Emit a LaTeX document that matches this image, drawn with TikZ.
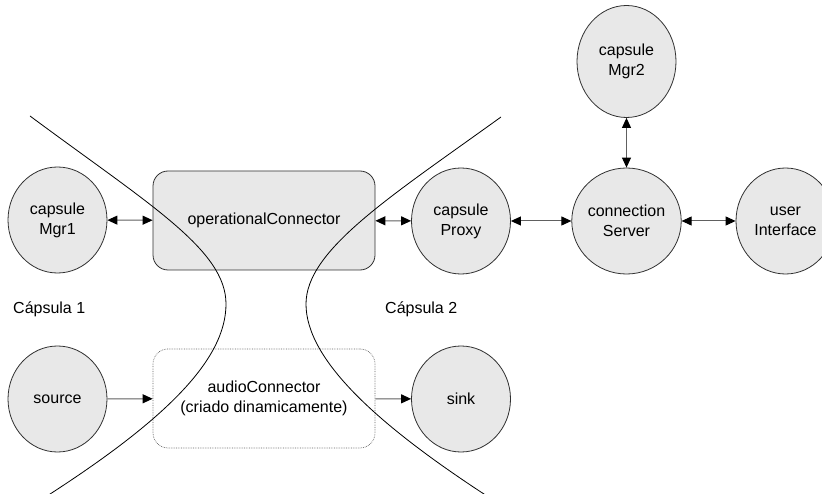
\documentclass[tikz,border=0pt]{standalone}
\usepackage{fontspec}
\setmainfont{Liberation Sans}
\usetikzlibrary{shapes.geometric,arrows.meta}
\definecolor{capfill}{HTML}{E8E8E8}
\definecolor{edgegray}{HTML}{303030}
\definecolor{linkgray}{HTML}{606060}
\begin{document}
\begin{tikzpicture}[x=1pt,y=-1pt,
  every node/.style={font=\fontsize{16}{20}\selectfont, align=center, inner sep=0pt},
  capsule/.style={ellipse, draw=edgegray, fill=capfill, line width=0.8pt,
    minimum width=99pt, minimum height=106pt},
  connbox/.style={rectangle, rounded corners=15pt, draw=edgegray, fill=capfill,
    line width=0.8pt, minimum width=222pt, minimum height=99pt},
  dynbox/.style={rectangle, rounded corners=15pt, draw=linkgray, densely dotted,
    line width=0.7pt, minimum width=222pt, minimum height=99pt},
  link/.style={draw=linkgray, line width=1pt, -{Triangle[length=10pt,width=9pt,fill=black,color=black]}},
  biglink/.style={link, {Triangle[length=10pt,width=9pt,fill=black,color=black]}-{Triangle[length=10pt,width=9pt,fill=black,color=black]}},
  boundary/.style={draw=black, line width=0.8pt}
]
\useasboundingbox (0,0) rectangle (822,494);

% component nodes
\node[capsule] (mgr1) at (57.5,220) {capsule\\Mgr1};
\node[connbox] (opconn) at (264,220.5) {operationalConnector};
\node[capsule] (proxy) at (461,221) {capsule\\Proxy};
\node[capsule] (server) at (626.5,221) {connection\\Server};
\node[capsule] (ui) at (785.5,221) {user\\Interface};
\node[capsule, minimum height=112pt] (mgr2) at (626.5,61.5) {capsule\\Mgr2};

\node[capsule] (source) at (57.5,399) {source};
\node[dynbox] (audio) at (264,398.5) {audioConnector\\(criado dinamicamente)};
\node[capsule] (sink) at (461,399) {sink};

% capsule labels
\node[anchor=west] (cap1) at (13,309) {Cápsula 1};
\node[anchor=west] (cap2) at (385,309) {Cápsula 2};

% links
\draw[biglink] (mgr1) -- (opconn);
\draw[biglink] (opconn) -- (proxy);
\draw[biglink] (proxy) -- (server);
\draw[biglink] (server) -- (ui);
\draw[biglink] (mgr2) -- (server);
\draw[link] (source) -- (audio);
\draw[link] (audio) -- (sink);

% capsule boundaries
\coordinate (ltop) at (30,116);
\coordinate (lmid) at (226,304);
\coordinate (lbot) at (47,496);
\coordinate (rtop) at (501,117);
\coordinate (rmid) at (306,304);
\coordinate (rbot) at (487,496);
\draw[boundary] (ltop) .. controls (150,205) and (226,250) .. (lmid)
  .. controls (226,360) and (165,420) .. (lbot);
\draw[boundary] (rtop) .. controls (390,197) and (306,250) .. (rmid)
  .. controls (306,360) and (378,425) .. (rbot);
\end{tikzpicture}
\end{document}
